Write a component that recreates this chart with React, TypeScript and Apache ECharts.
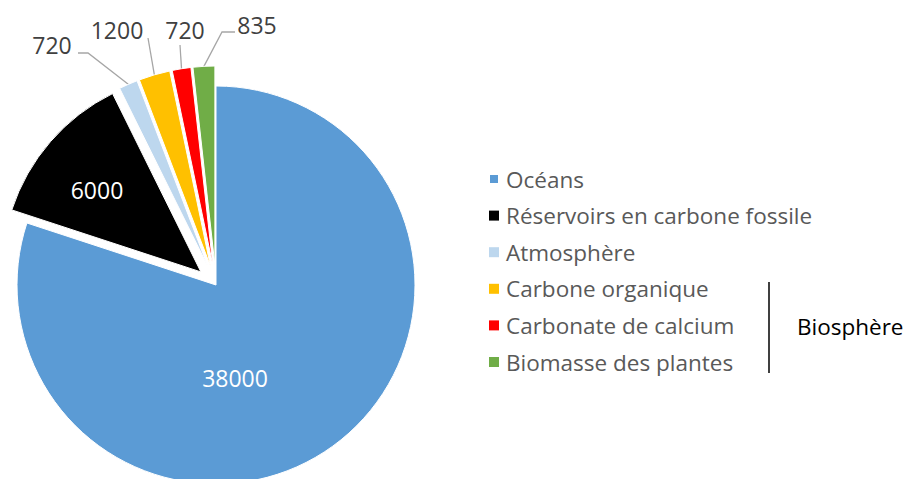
import React, { useEffect, useRef } from "react";
import * as echarts from "echarts";

const categories = [
  "Océans",
  "Réservoirs en carbone fossile",
  "Atmosphère",
  "Carbone organique",
  "Carbonate de calcium",
  "Biomasse des plantes",
];
const values = [38000, 6000, 720, 1200, 720, 835];
const colors = ["#5B9BD5", "#000000", "#BDD7EE", "#FFC000", "#FF0000", "#70AD47"];
const insideLabel = [true, true, false, false, false, false];
const groupLabel = "Biosphère";

const FONT = "'Open Sans', 'Noto Sans', sans-serif";
const CX = 216;
const CY = 285;
const R = 199;
const explodeOffset = [0, 20, 20, 20, 20, 20];
const labelPos: number[][] = [
  [235, 378],
  [97, 190],
  [52, 45],
  [117, 30],
  [185, 30],
  [257, 25],
];
// leader line bends, relative to the label centre
const leaderBends: (number[][] | null)[] = [
  null,
  null,
  [[36, 8], [26, 8]],
  [[31, 8], [31, 8]],
  [[-5, 15], [-5, 15]],
  [[-35, 7], [-22, 7]],
];

export default function App() {
  const ref = useRef<HTMLDivElement>(null);
  useEffect(() => {
    if (!ref.current) return;
    const chart = echarts.init(ref.current, undefined, { renderer: "svg" });
    const total = values.reduce((a, b) => a + b, 0);
    let cum = 0;
    const series = categories.map((_, i) => {
      const midFrac = (cum + values[i] / 2) / total;
      cum += values[i];
      const ang = ((90 - 360 * midFrac) * Math.PI) / 180;
      const d = explodeOffset[i];
      const center = [CX + d * Math.cos(ang), CY - d * Math.sin(ang)];
      return {
        type: "pie",
        center,
        radius: [0, R],
        startAngle: 90,
        clockwise: true,
        silent: true,
        avoidLabelOverlap: false,
        emphasis: { disabled: true },
        label: {
          fontFamily: FONT,
          fontSize: 23,
          formatter: "{c}",
        },
        labelLine: {
          length: 10,
          length2: 8,
          lineStyle: { color: "#A6A6A6", width: 1.3 },
        },
        labelLayout: (p: any) => {
          const pos = labelPos[p.dataIndex];
          const out: any = { x: pos[0], y: pos[1], align: "center", verticalAlign: "middle" };
          const bends = leaderBends[p.dataIndex];
          if (bends && p.labelLinePoints && p.labelLinePoints[0]) {
            const a = p.labelLinePoints[0];
            out.labelLinePoints = [
              [a[0], a[1]],
              [pos[0] + bends[0][0], pos[1] + bends[0][1]],
              [pos[0] + bends[1][0], pos[1] + bends[1][1]],
            ];
          }
          return out;
        },
        data: categories.map((name, j) => ({
          name,
          value: values[j],
          itemStyle:
            j === i
              ? { color: colors[j], borderColor: "#ffffff", borderWidth: 1 }
              : { color: "rgba(0,0,0,0)", borderWidth: 0 },
          label:
            j === i
              ? insideLabel[j]
                ? { show: true, position: "inside", color: "#ffffff" }
                : { show: true, position: "outside", color: "#404040" }
              : { show: false },
          labelLine: { show: j === i && !insideLabel[j] },
        })),
      };
    });
    chart.setOption({
      animation: false,
      backgroundColor: "#ffffff",
      legend: {
        orient: "vertical",
        left: 483,
        top: 161,
        icon: "rect",
        itemWidth: 10,
        itemHeight: 10,
        itemGap: 10.6,
        selectedMode: false,
        textStyle: {
          fontFamily: FONT,
          fontSize: 22.5,
          lineHeight: 26,
          color: "#595959",
          padding: [0, 0, 0, 2],
        },
        data: categories.map((name, i) => ({ name, itemStyle: { color: colors[i] } })),
      },
      series,
      graphic: [
        {
          type: "line",
          shape: { x1: 769, y1: 282, x2: 769, y2: 373 },
          style: { stroke: "#000000", lineWidth: 1.5 },
        },
        {
          type: "text",
          x: 797,
          y: 326,
          style: {
            text: groupLabel,
            fontFamily: FONT,
            fontSize: 22.5,
            fill: "#000000",
            verticalAlign: "middle",
          },
        },
      ],
    });
    return () => chart.dispose();
  }, []);
  return (
    <div
      ref={ref}
      style={{ position: "fixed", left: 0, top: 0, width: 906, height: 479 }}
    />
  );
}
